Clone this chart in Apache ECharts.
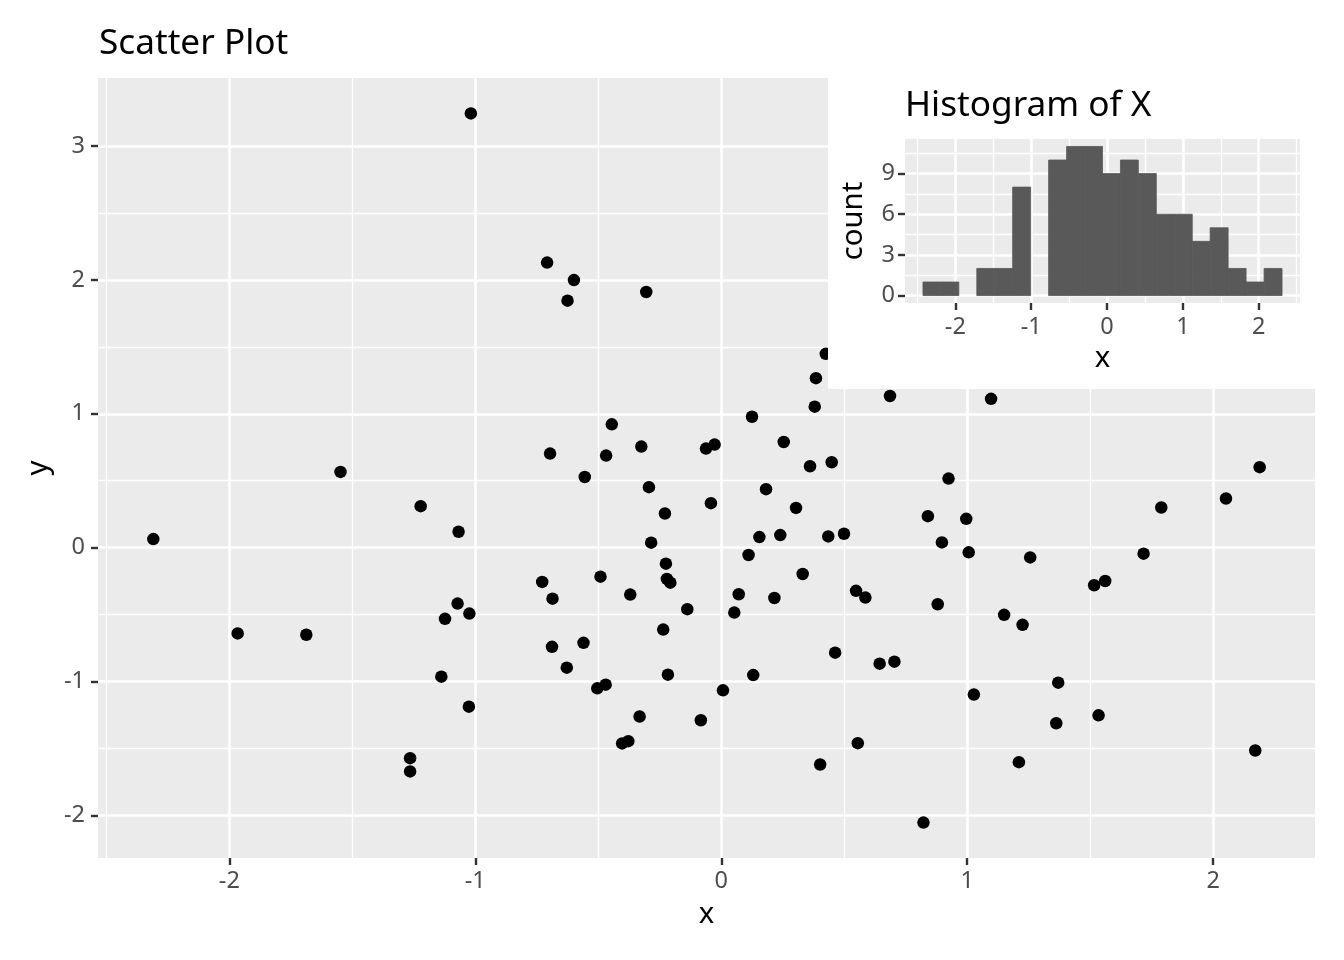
<!DOCTYPE html>
<html><head><meta charset="utf-8">
<script src="https://cdn.jsdelivr.net/npm/echarts@6/dist/echarts.min.js"></script>
<style>html,body{margin:0;padding:0;background:#fff}#c{width:1344px;height:960px}</style>
</head><body><div id="c"></div>
<script>
// ---- data ----
const scatterX = [-1.018,-1.548,-0.708,-0.599,-0.625,-0.305,0.425,0.385,0.380,0.686,
  0.125,-0.445,-0.696,-0.468,-0.325,-0.062,-0.027,0.254,0.361,0.449,
  -0.555,-0.294,0.182,-0.042,0.304,-0.229,0.155,0.240,0.435,0.499,
  -0.285,0.111,-0.225,0.331,-0.728,-0.491,-0.221,-0.207,0.548,0.586,
  -0.686,-0.370,0.071,0.216,-0.138,0.053,-0.236,-0.688,-0.560,-0.628,
  -0.217,0.130,0.463,0.644,0.704,-0.504,-0.470,0.007,-0.332,-0.083,
  -0.403,-0.378,0.555,0.402,-2.309,-1.222,-1.068,-1.966,-1.687,-1.072,
  -1.024,-1.123,-1.138,-1.026,-1.265,-1.265,1.097,2.189,0.924,2.052,
  1.789,0.840,0.996,0.897,1.006,1.256,1.717,1.516,1.561,0.880,
  1.150,1.225,1.370,1.027,1.362,1.534,2.171,1.210,0.822,0.760];
const scatterY = [3.244,0.566,2.130,1.999,1.845,1.910,1.448,1.266,1.053,1.133,
  0.978,0.921,0.703,0.688,0.755,0.740,0.770,0.789,0.608,0.638,
  0.528,0.452,0.437,0.332,0.297,0.255,0.079,0.094,0.084,0.104,
  0.037,-0.055,-0.120,-0.197,-0.256,-0.217,-0.234,-0.262,-0.323,-0.373,
  -0.381,-0.351,-0.348,-0.376,-0.460,-0.485,-0.612,-0.741,-0.711,-0.897,
  -0.949,-0.952,-0.785,-0.867,-0.852,-1.051,-1.024,-1.066,-1.262,-1.290,
  -1.463,-1.446,-1.461,-1.620,0.064,0.310,0.119,-0.641,-0.651,-0.418,
  -0.493,-0.532,-0.964,-1.188,-1.573,-1.672,1.112,0.601,0.516,0.367,
  0.300,0.235,0.215,0.039,-0.035,-0.073,-0.045,-0.281,-0.249,-0.423,
  -0.502,-0.577,-1.009,-1.098,-1.312,-1.253,-1.516,-1.603,-2.054,1.700];
const xTicks = [-2,-1,0,1,2];
const xMinor = [-2.5,-1.5,-0.5,0.5,1.5];
const yTicks = [-2,-1,0,1,2,3];
const yMinor = [-1.5,-0.5,0.5,1.5,2.5];

const histEdges = [-2.427,-2.191,-1.954,-1.717,-1.480,-1.244,-1.007,-0.770,-0.533,-0.297,
  -0.060,0.177,0.413,0.650,0.887,1.124,1.360,1.597,1.834,2.071,2.308];
const histCounts = [1,1,0,2,2,8,0,10,11,11,9,10,9,6,6,4,5,2,1,2];
const histXTicks = [-2,-1,0,1,2];
const histXMinor = [-2.5,-1.5,-0.5,0.5,1.5,2.5];
const histYTicks = [0,3,6,9];
const histYMinor = [1.5,4.5,7.5,10.5];

// ---- helpers (ggplot-like 5% expansion) ----
function expand(lo, hi){ const r = hi - lo; return [lo - 0.05*r, hi + 0.05*r]; }
const [xMin, xMax] = expand(Math.min(...scatterX), Math.max(...scatterX));
const [yMin, yMax] = expand(Math.min(...scatterY), Math.max(...scatterY));
const [hxMin, hxMax] = expand(histEdges[0], histEdges[histEdges.length-1]);
const [hyMin, hyMax] = expand(0, Math.max(...histCounts));

const FONT = 'Noto Sans';
const tickLabel = {color:'#4D4D4D', fontSize:23.5, fontFamily:FONT};
const nameStyle = {color:'#000', fontSize:29.3, fontFamily:FONT};

function majorAxis(o){
  return Object.assign({
    type:'value', axisLine:{show:false, onZero:false},
    axisTick:{show:true, length:7, lineStyle:{color:'#333333', width:2.4}, customValues:o.ticks},
    axisLabel:Object.assign({customValues:o.ticks, margin:o.margin}, tickLabel),
    splitLine:{show:true, lineStyle:{color:'#FFFFFF', width:2.6}},
    nameLocation:'middle', nameTextStyle:nameStyle
  }, o.extra);
}
function minorAxis(o){
  return Object.assign({
    type:'value', axisLine:{show:false, onZero:false},
    axisTick:{show:false, customValues:o.ticks},
    axisLabel:{show:false, customValues:o.ticks},
    splitLine:{show:true, lineStyle:{color:'#FFFFFF', width:1.3}}
  }, o.extra);
}

const chart = echarts.init(document.getElementById('c'), null, {renderer:'canvas'});
chart.setOption({
  animation:false,
  backgroundColor:'#FFFFFF',
  title:[
    {text:'Scatter Plot', left:99, top:26, padding:0,
     textStyle:{fontSize:35.2, fontWeight:'normal', color:'#000', fontFamily:FONT}},
    {text:'Histogram of X', left:905, top:88, padding:0, z:60,
     textStyle:{fontSize:35.2, fontWeight:'normal', color:'#000', fontFamily:FONT}}
  ],
  graphic:[{type:'rect', z:50, shape:{x:828, y:60, width:516, height:329}, style:{fill:'#FFFFFF'}}],
  grid:[
    {left:98, top:78, right:29, bottom:102, show:true, backgroundColor:'#EBEBEB', borderWidth:0},
    {left:905, top:139, width:395, height:164, show:true, backgroundColor:'#EBEBEB', borderWidth:0, z:51}
  ],
  xAxis:[
    majorAxis({ticks:xTicks, margin:11, extra:{gridIndex:0, min:xMin, max:xMax, name:'x', nameGap:42}}),
    minorAxis({ticks:xMinor, extra:{gridIndex:0, min:xMin, max:xMax, position:'top'}}),
    majorAxis({ticks:histXTicks, margin:12, extra:{gridIndex:1, min:hxMin, max:hxMax, name:'x', nameGap:41, z:52}}),
    minorAxis({ticks:histXMinor, extra:{gridIndex:1, min:hxMin, max:hxMax, position:'top', z:52}})
  ],
  yAxis:[
    majorAxis({ticks:yTicks, margin:13, extra:{gridIndex:0, min:yMin, max:yMax, name:'y', nameGap:43}}),
    minorAxis({ticks:yMinor, extra:{gridIndex:0, min:yMin, max:yMax, position:'right'}}),
    majorAxis({ticks:histYTicks, margin:10, extra:{gridIndex:1, min:hyMin, max:hyMax, name:'count', nameGap:37, z:52}}),
    minorAxis({ticks:histYMinor, extra:{gridIndex:1, min:hyMin, max:hyMax, position:'right', z:52}})
  ],
  series:[
    {type:'scatter', xAxisIndex:0, yAxisIndex:0, z:2, symbolSize:12.5,
     itemStyle:{color:'#000000', opacity:1},
     data:scatterX.map((x,i)=>[x, scatterY[i]])},
    {type:'custom', xAxisIndex:2, yAxisIndex:2, z:53,
     encode:{x:[0,1], y:2},
     data:histCounts.map((c,i)=>[histEdges[i], histEdges[i+1], c]),
     renderItem:function(params, api){
       const p0 = api.coord([api.value(0), 0]);
       const p1 = api.coord([api.value(1), api.value(2)]);
       return {type:'rect', shape:{x:p0[0], y:p1[1], width:p1[0]-p0[0], height:p0[1]-p1[1]},
               style:{fill:'#595959', stroke:'#595959', lineWidth:api.value(2) > 0 ? 0.8 : 0}};
     }}
  ]
});
</script>
</body></html>
